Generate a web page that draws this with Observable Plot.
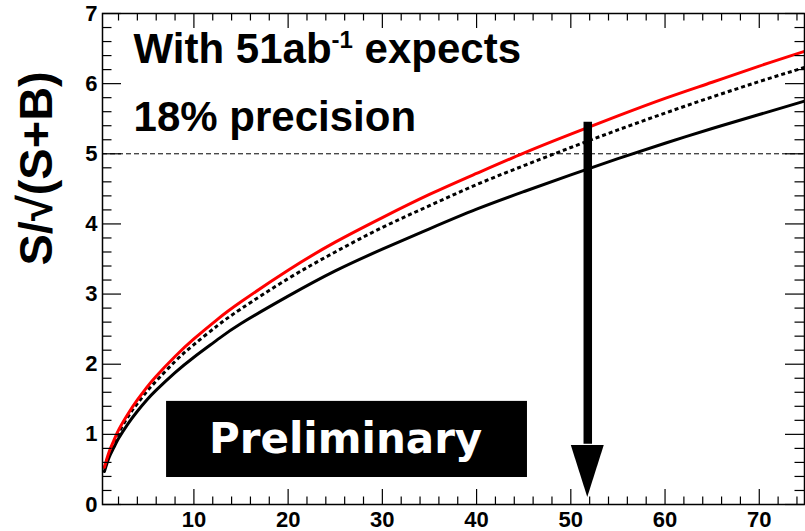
<!DOCTYPE html>
<html>
<head>
<meta charset="utf-8">
<script src="https://cdn.jsdelivr.net/npm/d3@7"></script>
<script src="https://cdn.jsdelivr.net/npm/@observablehq/plot@0.6"></script>
<style>
  html, body { margin: 0; padding: 0; background: white; }
</style>
</head>
<body>
<div id="chart"></div>
<script>
// Integrated luminosity (ab^-1) sample points
const lumi = [0.5, 1, 1.5, 2, 3, 4, 5, 6, 8, 10, 12.5, 15, 20, 25, 30, 35, 40, 45, 50, 55, 60, 65, 70, 74.8];
// Red curve
const sigRed = [0.53, 0.75, 0.91, 1.06, 1.29, 1.49, 1.67, 1.83, 2.11, 2.36, 2.64, 2.89, 3.34, 3.74, 4.09, 4.42, 4.72, 5.01, 5.28, 5.54, 5.79, 6.02, 6.25, 6.46];
// Dotted black curve
const sigDotted = [0.51, 0.72, 0.88, 1.02, 1.25, 1.44, 1.61, 1.76, 2.04, 2.28, 2.55, 2.79, 3.22, 3.60, 3.95, 4.26, 4.56, 4.83, 5.09, 5.34, 5.58, 5.81, 6.03, 6.23];
// Solid black curve
const sigSolid = [0.47, 0.67, 0.81, 0.94, 1.15, 1.33, 1.49, 1.63, 1.88, 2.10, 2.35, 2.58, 2.97, 3.33, 3.64, 3.93, 4.21, 4.46, 4.70, 4.93, 5.15, 5.36, 5.56, 5.75];

// Axis ticks
const xMajor = [10, 20, 30, 40, 50, 60, 70];
const xMinor = [2, 4, 6, 8, 12, 14, 16, 18, 22, 24, 26, 28, 32, 34, 36, 38, 42, 44, 46, 48, 52, 54, 56, 58, 62, 64, 66, 68, 72, 74];
const yMajor = [0, 1, 2, 3, 4, 5, 6, 7];
const yMinor = d3.range(0.2, 7, 0.2).filter(v => Math.abs(v - Math.round(v)) > 0.01);

// Annotations
const threshold = [5];
const arrowX = 51.8;      // 51 ab^-1
const arrowTop = 5.45;
const arrowHeadBase = 0.84;
const arrowTip = 0.1;
const arrowHalfWidth = 1.75;
const prelimBox = {x1: 7.1, x2: 45.4, y1: 0.385, y2: 1.47};
const prelimText = {x: 26.1, y: 0.93, text: "Preliminary"};
const noteLines = [
  {x: 3.6, y: 6.48, text: "With 51ab-1 expects"},
  {x: 3.6, y: 5.51, text: "18% precision"}
];

const rows = [];
lumi.forEach((x, i) => {
  rows.push({x, y: sigSolid[i], s: "solid"});
  rows.push({x, y: sigDotted[i], s: "dotted"});
  rows.push({x, y: sigRed[i], s: "red"});
});
const arrowHead = [
  {x: arrowX - arrowHalfWidth, y1: arrowHeadBase, y2: arrowHeadBase},
  {x: arrowX, y1: arrowTip, y2: arrowHeadBase},
  {x: arrowX + arrowHalfWidth, y1: arrowHeadBase, y2: arrowHeadBase}
];

const W = 805, H = 531, mL = 102, mR = 1, mT = 13, mB = 27;
const fw = W - mL - mR, fh = H - mT - mB;
const font = "'Liberation Sans', Arial, Helvetica, sans-serif";

const chart = Plot.plot({
  width: W,
  height: H,
  marginLeft: mL,
  marginRight: mR,
  marginTop: mT,
  marginBottom: mB,
  style: {fontFamily: font, fontWeight: "bold", fontSize: "22px", background: "white", color: "black", overflow: "visible"},
  x: {domain: [0.3, 74.8], label: null},
  y: {domain: [0, 7], label: null},
  marks: [
    // dashed threshold
    Plot.ruleY(threshold, {stroke: "black", strokeWidth: 1, strokeDasharray: "5,3"}),
    // curves
    Plot.line(rows.filter(d => d.s === "solid"), {x: "x", y: "y", stroke: "black", strokeWidth: 3, curve: "natural"}),
    Plot.line(rows.filter(d => d.s === "dotted"), {x: "x", y: "y", stroke: "black", strokeWidth: 3, strokeDasharray: "4,3", strokeLinecap: "butt", strokeLinejoin: "miter", curve: "natural"}),
    Plot.line(rows.filter(d => d.s === "red"), {x: "x", y: "y", stroke: "#ff0000", strokeWidth: 3, curve: "natural"}),
    // preliminary box
    Plot.rect([prelimBox], {x1: "x1", x2: "x2", y1: "y1", y2: "y2", fill: "black"}),
    Plot.text([prelimText], {x: "x", y: "y", text: "text", fill: "white", fontSize: 42, fontWeight: "bold", fontFamily: "'DejaVu Sans', Verdana, sans-serif", lineAnchor: "middle"}),
    // arrow
    Plot.ruleX([arrowX], {y1: arrowHeadBase + 0.02, y2: arrowTop, stroke: "black", strokeWidth: 8.5}),
    Plot.areaY(arrowHead, {x: "x", y1: "y1", y2: "y2", fill: "black", curve: "linear"}),
    // annotation text
    Plot.text(noteLines, {x: "x", y: "y", text: "text", textAnchor: "start", lineAnchor: "middle", fontSize: 42, fontWeight: "bold", fill: "black"}),
    // inward ticks: bottom / top
    Plot.ruleX(xMajor, {insetTop: fh - 15, stroke: "black", strokeWidth: 1.2}),
    Plot.ruleX(xMinor, {insetTop: fh - 7.5, stroke: "black", strokeWidth: 1.2}),
    Plot.ruleX(xMajor, {insetBottom: fh - 15, stroke: "black", strokeWidth: 1.2}),
    Plot.ruleX(xMinor, {insetBottom: fh - 7.5, stroke: "black", strokeWidth: 1.2}),
    // inward ticks: left / right
    Plot.ruleY(yMajor, {insetRight: fw - 19, stroke: "black", strokeWidth: 1.2}),
    Plot.ruleY(yMinor, {insetRight: fw - 9.5, stroke: "black", strokeWidth: 1.2}),
    Plot.ruleY(yMajor, {insetLeft: fw - 19, stroke: "black", strokeWidth: 1.2}),
    Plot.ruleY(yMinor, {insetLeft: fw - 9.5, stroke: "black", strokeWidth: 1.2}),
    // frame
    Plot.frame({stroke: "black", strokeWidth: 1.5}),
    // tick labels
    Plot.axisX({ticks: xMajor, tickSize: 0, tickPadding: 7, tickFormat: d => String(d), label: null}),
    Plot.axisY({ticks: yMajor, tickSize: 0, tickPadding: 5, tickFormat: d => String(d), label: null}),
    // y title
    Plot.text(["S/\u221A(S+B)"], {frameAnchor: "left", text: d => d, rotate: -90, dx: -66, dy: 6.5, lineAnchor: "middle", fontSize: 47, fontWeight: "bold", fill: "black"})
  ]
});

// superscript in the first annotation line
d3.select(chart).selectAll("text").each(function () {
  if (this.textContent === "With 51ab-1 expects") {
    const t = d3.select(this);
    t.text(null);
    t.append("tspan").text("With 51ab");
    t.append("tspan").attr("dy", -15).attr("font-size", 24).text("-1");
    t.append("tspan").attr("dy", 15).text(" expects");
  }
});

document.getElementById("chart").appendChild(chart);
</script>
</body>
</html>
